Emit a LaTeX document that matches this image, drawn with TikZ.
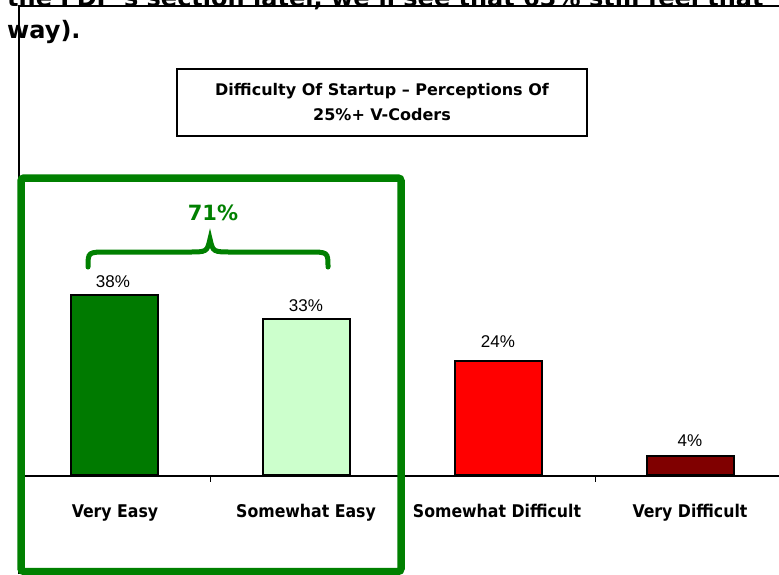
\documentclass[tikz,border=0pt]{standalone}
\usepackage{fontspec}
\setmainfont{DejaVu Sans}
\newfontfamily\condfont{DejaVu Sans Condensed}
\newfontfamily\arialfont{Liberation Sans}
\definecolor{dkgreen}{RGB}{0,122,0}
\definecolor{boxgreen}{RGB}{0,128,0}
\definecolor{ltgreen}{RGB}{204,255,204}
\definecolor{maroon}{RGB}{128,0,0}
\tikzset{
  bar/.style={draw=black, line width=1.6pt, minimum width=87pt, anchor=south, inner sep=0pt},
  val/.style={font=\arialfont\fontsize{17}{19}\selectfont, anchor=base},
  cat/.style={font=\condfont\bfseries\fontsize{17.5}{20}\selectfont, anchor=base},
  toptext/.style={font=\bfseries\fontsize{24}{28}\selectfont, anchor=base west, inner sep=0pt},
}
\begin{document}
\begin{tikzpicture}[x=1pt,y=-1pt]
\useasboundingbox (0,0) rectangle (779,574);
\clip (0,0) rectangle (779,574);
\fill[white] (0,0) rectangle (779,574);
% cut-off text above
\node[toptext] (l1) at (7,6) {the FDP's section later, we'll see that 63\% still feel that};
\node[toptext] (l2) at (7,38) {way).};
% chart frame
\draw[line width=1.5pt] (19,574) -- (19,6) -- (779,6);
% title
\node[draw=black, line width=1.5pt, minimum width=410pt, minimum height=67pt, align=center,
      font=\bfseries\fontsize{16}{25}\selectfont] (title) at (382,102.5)
      {Difficulty Of Startup -- Perceptions Of\\25\%+ V-Coders};
% axis
\coordinate (a0) at (19,476);
\coordinate (a1) at (779,476);
\draw[line width=1.5pt] (a0) -- (a1);
\draw[line width=1pt] (210,476) -- (210,482);
\draw[line width=1pt] (595,476) -- (595,482);
% bars
\node[bar, fill=dkgreen, minimum height=180pt] (b1) at (114.5,476) {};
\node[bar, fill=ltgreen, minimum height=156pt] (b2) at (306.5,476) {};
\node[bar, fill=red, minimum height=114pt] (b3) at (498.5,476) {};
\node[bar, fill=maroon, minimum height=19pt] (b4) at (690.5,476) {};
% values
\node[val] (v1) at (113,287) {38\%};
\node[val] (v2) at (306,311) {33\%};
\node[val] (v3) at (498,347) {24\%};
\node[val] (v4) at (690,446) {4\%};
% categories
\node[cat] (c1) at (115,517) {Very Easy};
\node[cat] (c2) at (306,517) {Somewhat Easy};
\node[cat] (c3) at (497,517) {Somewhat Difficult};
\node[cat] (c4) at (690,517) {Very Difficult};
% green highlight
\draw[boxgreen, line width=7.5pt, rounded corners=3pt] (21,178) rectangle (401,571.5);
\draw[boxgreen, line width=5pt, line cap=round]
  (88,267) .. controls (88,252) .. (108,252) -- (188,252)
  .. controls (207,252) .. (210,239) .. controls (213,252) .. (232,252)
  -- (308,252) .. controls (328,252) .. (328,267);
\node[text=boxgreen, font=\bfseries\fontsize{21}{24}\selectfont, anchor=base] (tot) at (213,220) {71\%};
\end{tikzpicture}
\end{document}
